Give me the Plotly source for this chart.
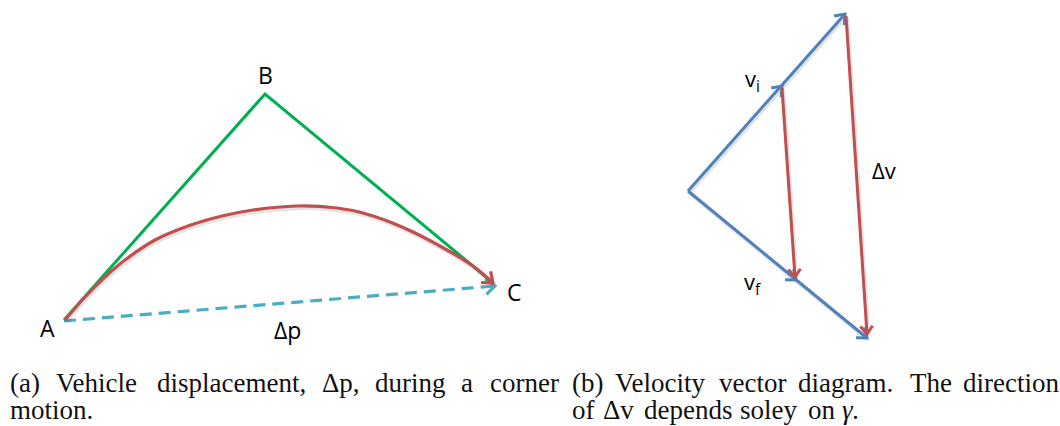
import math
import plotly.graph_objects as go

# ---- Panel (a): corner motion A -> B -> C (diagram units, y grows downward) ----
corner_x = [64, 265, 491]
corner_y = [320, 94, 281]

disp_x = [64, 495]
disp_y = [321, 286]

path_x = [65, 85, 105, 125, 155, 188, 222, 253, 297, 337, 363, 390, 413, 447, 473, 493]
path_y = [320, 297, 277, 260, 240, 226, 216, 210, 206, 208, 213, 222, 232, 250, 266, 283]

point_names = ["A", "B", "C", "Δp"]
point_lx = [47, 265, 514, 287]
point_ly = [328, 75, 292, 330]

# ---- Panel (b): velocity vectors ----
origin = (688, 191)
vi_x = [688, 845]
vi_y = [191, 14]
vf_x = [688, 867]
vf_y = [191, 338]
vi_mid = (782, 86)
vf_mid = (796, 280)

dv_small_x = [782, 795]
dv_small_y = [88, 277]
dv_large_x = [846, 867]
dv_large_y = [16, 334]

vec_names = ["v<sub>i</sub>", "v<sub>f</sub>", "Δv"]
vec_lx = [752, 752, 884]
vec_ly = [80, 283, 170]

# ---- Captions (set word by word) ----
cap_a1_words = ["(a)", "Vehicle", "displacement,", "Δp,", "during", "a", "corner"]
cap_a1_x = [8, 54, 155, 320, 373, 459, 488]
cap_a2 = "motion."
cap_b1_words = ["(b)", "Velocity", "vector", "diagram.", "The", "direction"]
cap_b1_x = [570, 613, 717, 796, 908, 961]
cap_b2_words = ["of", "Δv", "depends", "soley", "on", "γ."]
cap_b2_x = [570, 601, 642, 738, 806, 840]
cap_b2_italic = [False, False, False, False, False, True]

GREEN = "#00B050"
RED = "#C0504D"
AQUA = "#4BACC6"
BLUE = "#4F81BD"
SHADOW = "rgba(0,0,0,0.11)"

fig = go.Figure()


def add_line(xs, ys, color, width, dash=None, shape="linear", shadow=False):
    if shadow:
        fig.add_trace(go.Scatter(
            x=[v + 1.2 for v in xs], y=[v + 1.8 for v in ys], mode="lines",
            line=dict(color=SHADOW, width=width + 1.5, shape=shape),
            hoverinfo="skip", showlegend=False))
    fig.add_trace(go.Scatter(
        x=xs, y=ys, mode="lines",
        line=dict(color=color, width=width, dash=dash, shape=shape),
        hoverinfo="skip", showlegend=False))


def add_head(tip, tail, color, width, length=11, half_angle=38, shadow=False):
    # open "V" arrowhead pointing from tail toward tip
    dx, dy = tip[0] - tail[0], tip[1] - tail[1]
    n = math.hypot(dx, dy)
    bx, by = -dx / n, -dy / n
    a = math.radians(half_angle)
    pts = []
    for s in (1, -1):
        c, si = math.cos(s * a), math.sin(s * a)
        rx, ry = bx * c - by * si, bx * si + by * c
        pts.append((tip[0] + length * rx, tip[1] + length * ry))
    xs = [pts[0][0], tip[0], pts[1][0]]
    ys = [pts[0][1], tip[1], pts[1][1]]
    add_line(xs, ys, color, width, shadow=shadow)


# panel (a)
add_line(disp_x, disp_y, AQUA, 3.2, dash="12px,7px")
add_head((disp_x[1], disp_y[1]), (disp_x[0], disp_y[0]), AQUA, 3.2, length=12, half_angle=40)
add_line(corner_x, corner_y, GREEN, 3)
add_line(path_x, path_y, RED, 3.2, shape="spline", shadow=True)
add_head((path_x[-1], path_y[-1]), (path_x[-2], path_y[-2]), RED, 3.2, length=12, half_angle=38)

# panel (b)
add_line(vi_x, vi_y, BLUE, 3, shadow=True)
add_line(vf_x, vf_y, BLUE, 3, shadow=True)
add_head((vi_x[1], vi_y[1]), origin, BLUE, 3)
add_head(vi_mid, origin, BLUE, 3)
add_head((vf_x[1], vf_y[1]), origin, BLUE, 3)
add_head(vf_mid, origin, BLUE, 3)
add_line(dv_small_x, dv_small_y, RED, 3, shadow=True)
add_line(dv_large_x, dv_large_y, RED, 3, shadow=True)
add_head((dv_small_x[1], dv_small_y[1]), (dv_small_x[0], dv_small_y[0]), RED, 3, length=10)
add_head((dv_large_x[1], dv_large_y[1]), (dv_large_x[0], dv_large_y[0]), RED, 3, length=10)

SANS = "Open Sans, Noto Sans, sans-serif"
SERIF = "Liberation Serif, DejaVu Serif, serif"

annotations = []
for t, x, y in zip(point_names, point_lx, point_ly):
    annotations.append(dict(x=x, y=y, text=t, showarrow=False, xanchor="center",
                            yanchor="middle", font=dict(family=SANS, size=23, color="black")))
for t, x, y in zip(vec_names, vec_lx, vec_ly):
    annotations.append(dict(x=x, y=y, text=t, showarrow=False, xanchor="center",
                            yanchor="middle", font=dict(family=SANS, size=22, color="black")))

CAP_FONT = dict(family=SERIF, size=27, color="#111")
LINE1_Y, LINE2_Y = 383, 410
for w, x in zip(cap_a1_words, cap_a1_x):
    annotations.append(dict(x=x, y=LINE1_Y, text=w, showarrow=False, xanchor="left",
                            yanchor="middle", font=CAP_FONT))
annotations.append(dict(x=8, y=LINE2_Y, text=cap_a2, showarrow=False, xanchor="left",
                        yanchor="middle", font=CAP_FONT))
for w, x in zip(cap_b1_words, cap_b1_x):
    annotations.append(dict(x=x, y=LINE1_Y, text=w, showarrow=False, xanchor="left",
                            yanchor="middle", font=CAP_FONT))
for w, x, it in zip(cap_b2_words, cap_b2_x, cap_b2_italic):
    font = dict(CAP_FONT, style="italic") if it else CAP_FONT
    annotations.append(dict(x=x, y=LINE2_Y, text=w, showarrow=False, xanchor="left",
                            yanchor="middle", font=font))

fig.update_layout(
    width=1060, height=426,
    margin=dict(l=0, r=0, t=0, b=0),
    paper_bgcolor="white", plot_bgcolor="white",
    xaxis=dict(range=[0, 1060], visible=False, fixedrange=True),
    yaxis=dict(range=[426, 0], visible=False, fixedrange=True),
    annotations=annotations,
    showlegend=False,
)

fig.write_html("out.html")
